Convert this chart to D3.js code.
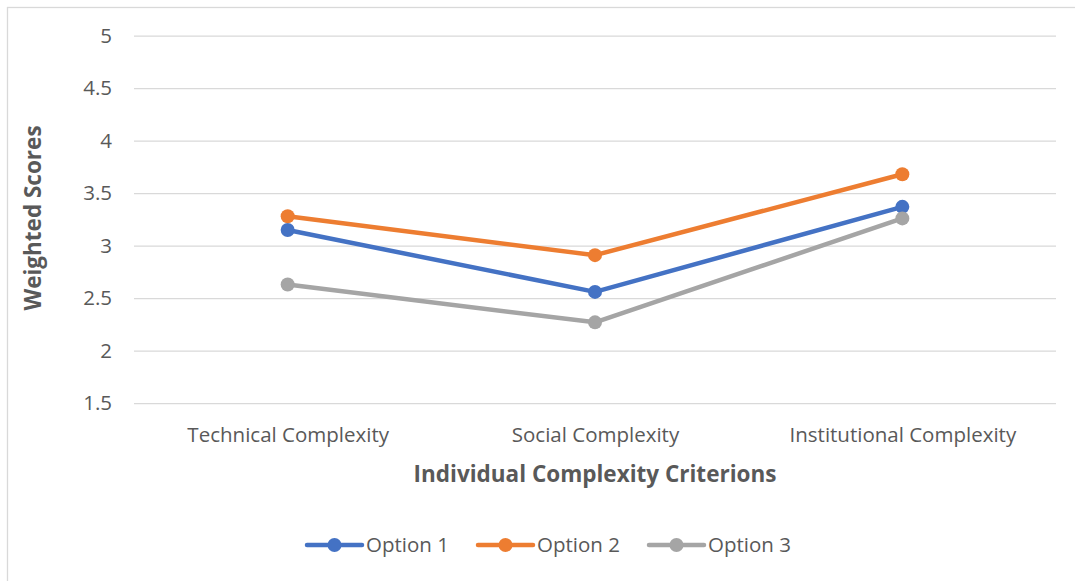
<!DOCTYPE html>
<html>
<head>
<meta charset="utf-8">
<script src="https://cdn.jsdelivr.net/npm/d3@7"></script>
<style>
  html, body { margin: 0; padding: 0; background: #fff; }
  svg { display: block; }
  text { font-family: "Open Sans", "Noto Sans", sans-serif; fill: #595959; }
</style>
</head>
<body>
<svg id="chart" width="1075" height="581"></svg>
<script>
// Criteria along the x axis
const categories = ["Technical Complexity", "Social Complexity", "Institutional Complexity"];

// Weighted scores per option
const option1 = [3.15, 2.56, 3.37];
const option2 = [3.28, 2.91, 3.68];
const option3 = [2.63, 2.27, 3.26];

const seriesNames = ["Option 1", "Option 2", "Option 3"];
const seriesColors = ["#4472C4", "#ED7D31", "#A5A5A5"];
const yTicks = [1.5, 2, 2.5, 3, 3.5, 4, 4.5, 5];

const series = [option1, option2, option3].map((values, i) => ({
  name: seriesNames[i],
  color: seriesColors[i],
  values: values.map((v, j) => ({ cat: categories[j], v }))
}));

const svg = d3.select("#chart");
const plot = { left: 134, right: 1056, top: 35.7, bottom: 403.2 };
const labelSize = 20.5;
const titleSize = 22.5;

// Outer chart border
svg.append("rect")
  .attr("x", 7.5).attr("y", 7.5)
  .attr("width", 1100).attr("height", 600)
  .attr("fill", "none").attr("stroke", "#d9d9d9").attr("stroke-width", 1.3);

const x = d3.scalePoint()
  .domain(categories)
  .range([plot.left, plot.right])
  .padding(0.5);

const y = d3.scaleLinear()
  .domain([1.5, 5])
  .range([plot.bottom, plot.top]);

// Horizontal gridlines with tick labels
const yAxis = d3.axisLeft(y)
  .tickValues(yTicks)
  .tickSize(-(plot.right - plot.left))
  .tickPadding(22)
  .tickFormat(d3.format("~g"));

const gy = svg.append("g")
  .attr("transform", `translate(${plot.left},0)`)
  .call(yAxis);
gy.select(".domain").remove();
gy.selectAll(".tick line").attr("stroke", "#d9d9d9").attr("stroke-width", 1.3);
gy.selectAll(".tick text")
  .attr("font-size", labelSize)
  .attr("fill", "#595959");

// Category labels
const xAxis = d3.axisBottom(x).tickSize(0);
const gx = svg.append("g")
  .attr("transform", `translate(0,${plot.bottom})`)
  .call(xAxis);
gx.select(".domain").remove();
gx.selectAll(".tick text")
  .attr("y", 38.8)
  .attr("dy", null)
  .attr("font-size", labelSize)
  .attr("fill", "#595959");

// Axis titles
svg.append("text")
  .attr("x", (plot.left + plot.right) / 2)
  .attr("y", 481.5)
  .attr("text-anchor", "middle")
  .attr("font-size", titleSize)
  .attr("font-weight", "bold")
  .text("Individual Complexity Criterions");

svg.append("text")
  .attr("transform", "translate(41,218) rotate(-90)")
  .attr("text-anchor", "middle")
  .attr("font-size", titleSize)
  .attr("font-weight", "bold")
  .text("Weighted Scores");

// Series lines and markers
const line = d3.line()
  .x(d => x(d.cat))
  .y(d => y(d.v));

const gs = svg.append("g").selectAll("g")
  .data(series)
  .join("g");

gs.append("path")
  .attr("d", d => line(d.values))
  .attr("fill", "none")
  .attr("stroke", d => d.color)
  .attr("stroke-width", 4.5)
  .attr("stroke-linejoin", "round")
  .attr("stroke-linecap", "round");

gs.selectAll("circle")
  .data(d => d.values.map(p => ({ ...p, color: d.color })))
  .join("circle")
  .attr("cx", d => x(d.cat))
  .attr("cy", d => y(d.v))
  .attr("r", 7)
  .attr("fill", d => d.color);

// Legend
const legendX = [307, 478, 649];
const legend = svg.append("g").selectAll("g")
  .data(series)
  .join("g")
  .attr("transform", (d, i) => `translate(${legendX[i]},545)`);

legend.append("line")
  .attr("x1", 0).attr("x2", 55)
  .attr("stroke", d => d.color)
  .attr("stroke-width", 4.5)
  .attr("stroke-linecap", "round");
legend.append("circle")
  .attr("cx", 27.5).attr("r", 7)
  .attr("fill", d => d.color);
legend.append("text")
  .attr("x", 59)
  .attr("y", 6.5)
  .attr("font-size", labelSize)
  .text(d => d.name);
</script>
</body>
</html>
